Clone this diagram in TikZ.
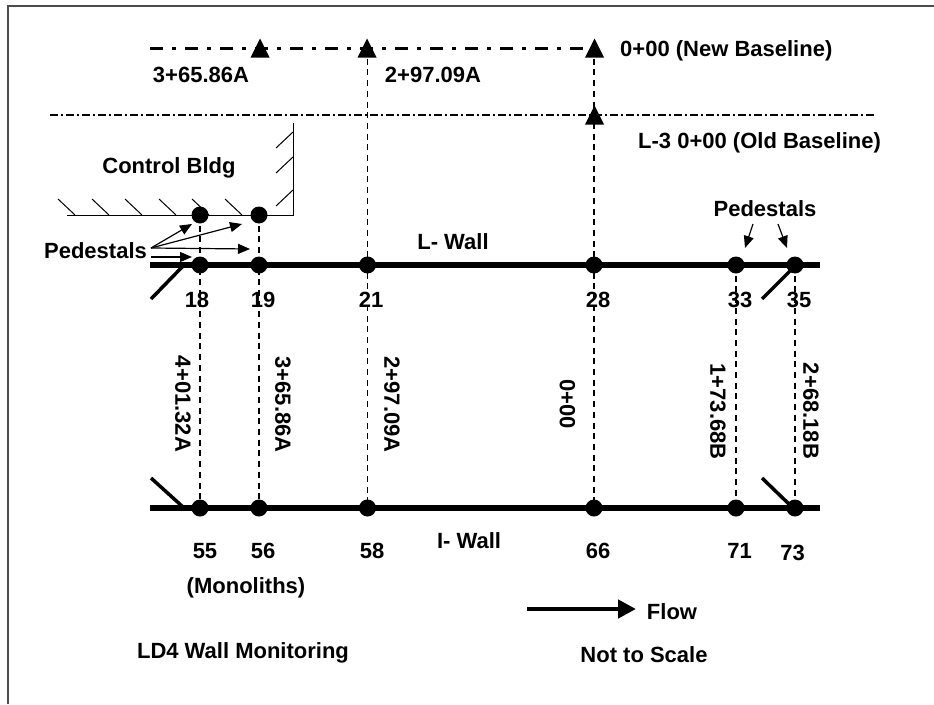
\documentclass[tikz,border=0pt]{standalone}
\usepackage{fontspec}
\setmainfont{Liberation Sans}
\usetikzlibrary{arrows.meta}
\tikzset{
 lbl/.style={font=\fontsize{22}{24}\selectfont\bfseries,inner sep=0pt,text=black},
 rlbl/.style={lbl,rotate=-90},
 monument/.style={circle,fill=black,minimum size=17pt,inner sep=0pt},
 wall/.style={line width=6pt},
 station/.style={line width=1.2pt,dash pattern=on 6pt off 4.7pt},
 hatch/.style={line width=1pt},
 thin arrow/.style={line width=1.2pt,-{Triangle[length=12pt,width=10pt]}},
 slash/.style={line width=3.5pt},
}
\begin{document}
\begin{tikzpicture}[x=1pt,y=-1pt]
\useasboundingbox (0,0) rectangle (934,704);
\fill[white] (0,0) rectangle (934,704);
% frame
\coordinate (fa) at (8,704); \coordinate (fb) at (8,6); \coordinate (fc) at (934,6);
\draw[line width=1.7pt,black!70] (fa) -- (fb) -- (fc);
% baselines
\coordinate (nb1) at (150,48); \coordinate (nb2) at (596,48);
\draw[line width=3pt,dash pattern=on 13pt off 9pt on 4pt off 9pt] (nb1) -- (nb2);
\coordinate (ob1) at (50,115); \coordinate (ob2) at (876,115);
\draw[line width=1.1pt,dash pattern=on 8pt off 3pt on 2pt off 3pt] (ob1) -- (ob2);
% station coordinates
\foreach \n/\x in {a/200,b/259,c/367.5,d/594,e/736,f/795}{
  \coordinate (top\n) at (\x,265);
  \coordinate (bot\n) at (\x,508);
}
\coordinate (tc) at (367.5,48); \coordinate (td) at (594,48);
% station lines
\node[monument] (p18) at (200,215) {};
\node[monument] (p19) at (259,215) {};
\draw[station] (p18.center) -- (bota);
\draw[station] (p19.center) -- (botb);
\draw[station] (tc) -- (botc);
\draw[station] (td) -- (botd);
\draw[station] (tope) -- (bote);
\draw[station] (topf) -- (botf);
% walls
\coordinate (lw1) at (150,265); \coordinate (lw2) at (820,265);
\coordinate (iw1) at (150,508); \coordinate (iw2) at (820,508);
\draw[wall] (lw1) -- (lw2);
\draw[wall] (iw1) -- (iw2);
\foreach \n/\x in {a/200,b/259,c/367.5,d/594,e/736,f/795}{
  \node[monument] (lm\n) at (top\n) {};
  \node[monument] (im\n) at (bot\n) {};
}
% triangles
\foreach \nm/\x/\y in {t1/260/48,t2/367/48,t3/594.5/48,t4/594.5/115}{
  \coordinate (\nm) at (\x,\y);
  \fill (\x-9.5,\y+9.5) -- (\x,\y-9.5) -- (\x+9.5,\y+9.5) -- cycle;
}
% control building
\coordinate (cb1) at (67,215); \coordinate (cb2) at (293,215); \coordinate (cb3) at (293,123);
\draw[hatch] (cb1) -- (cb2) -- (cb3);
\foreach \x in {75,109,142,176,209,242}{
  \draw[hatch] (\x,215) -- (\x-17,199);
}
\foreach \y in {132,157,190}{
  \draw[hatch] (293,\y) -- (276,\y+16);
}
% pedestal arrows
\coordinate (pa) at (151,248); \coordinate (pb) at (151,257);
\coordinate (e1) at (192,224); \coordinate (e2) at (242,224);
\coordinate (e3) at (250,249); \coordinate (e4) at (192,257);
\draw[thin arrow] (pa) -- (e1);
\draw[thin arrow] (pa) -- (e2);
\draw[thin arrow] (pa) -- (e3);
\draw[thin arrow] (pb) -- (e4);
\coordinate (r1) at (753,224); \coordinate (r2) at (745,248);
\coordinate (r3) at (778,224); \coordinate (r4) at (787,248);
\draw[thin arrow] (r1) -- (r2);
\draw[thin arrow] (r3) -- (r4);
% slashes
\coordinate (s1) at (151,299); \coordinate (s2) at (184,265);
\coordinate (s3) at (762,299); \coordinate (s4) at (793,268);
\coordinate (s5) at (151,478); \coordinate (s6) at (183,507);
\coordinate (s7) at (762,478); \coordinate (s8) at (792,507);
\draw[slash] (s1) -- (s2);
\draw[slash] (s3) -- (s4);
\draw[slash] (s5) -- (s6);
\draw[slash] (s7) -- (s8);
% flow
\coordinate (f1) at (527,609); \coordinate (f2) at (636,609);
\draw[line width=4.5pt,-{Triangle[length=18pt,width=18pt]}] (f1) -- (f2);
% labels
\node[lbl] (l1) at (201,75) {3+65.86A};
\node[lbl] (l2) at (433,75) {2+97.09A};
\node[lbl,anchor=west] (l3) at (620,50.5) {0+00 (New Baseline)};
\node[lbl,anchor=west] (l4) at (638,143) {L-3 0+00 (Old Baseline)};
\node[lbl] (l5) at (169,168) {Control Bldg};
\node[lbl] (l6) at (95.5,251) {Pedestals};
\node[lbl] (l7) at (765,209) {Pedestals};
\node[lbl] (l8) at (453,242) {L- Wall};
\node[lbl] (l9) at (469,541) {I- Wall};
\foreach \nm/\t/\x/\y in {n1/18/197/300,n2/19/263/300,n3/21/371/300,n4/28/598/300,n5/33/740/300,n6/35/799/300,n7/55/205/551,n8/56/263/551,n9/58/372/551,n10/66/598/551,n11/71/739.5/551,n12/73/792.5/552.5}{
  \node[lbl] (\nm) at (\x,\y) {\t};
}
\node[lbl] (l10) at (246,588) {(Monoliths)};
\node[lbl] (l11) at (243,653) {LD4 Wall Monitoring};
\node[lbl] (l12) at (672,612) {Flow};
\node[lbl] (l13) at (644,654.5) {Not to Scale};
\node[rlbl] (v1) at (183,404) {4+01.32A};
\node[rlbl] (v2) at (283,404.5) {3+65.86A};
\node[rlbl] (v3) at (392,404.5) {2+97.09A};
\node[rlbl] (v4) at (567.5,404) {0+00};
\node[rlbl] (v5) at (718,411.5) {1+73.68B};
\node[rlbl] (v6) at (811,411) {2+68.18B};
\end{tikzpicture}
\end{document}
